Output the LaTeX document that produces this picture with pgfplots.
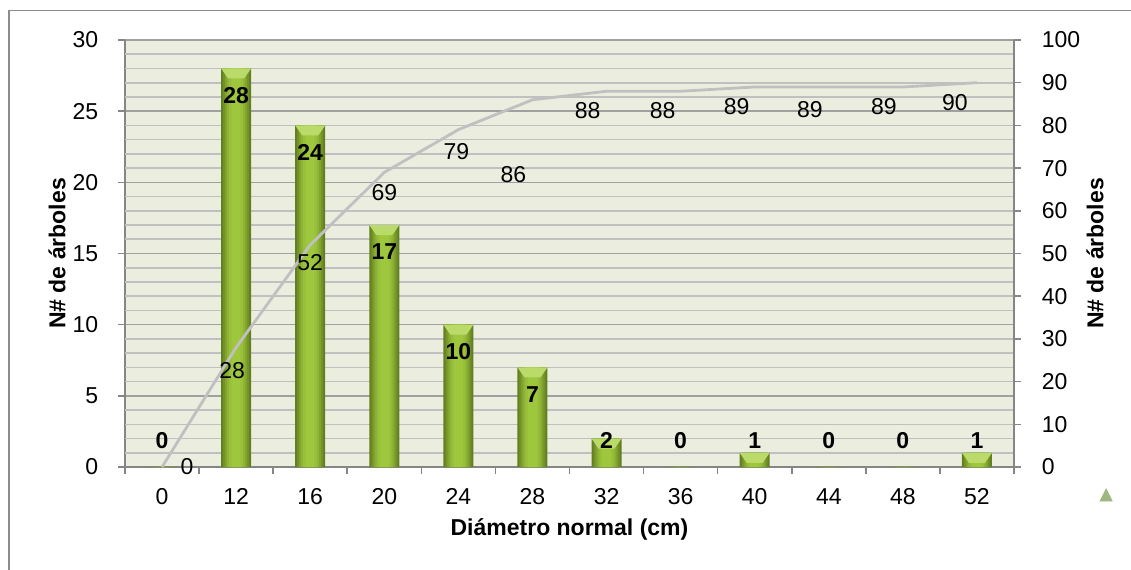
\documentclass[border=0pt]{standalone}
\usepackage{fontspec}
\setmainfont{Liberation Sans}
\usepackage{pgfplots}
\usepackage{pgfplotstable}
\pgfplotsset{compat=1.18}

\definecolor{plotbg}{RGB}{235,238,222}
\definecolor{axisgray}{RGB}{134,134,134}
\definecolor{majgrid}{RGB}{160,160,160}
\definecolor{mingrid}{RGB}{192,192,192}
\definecolor{barA}{RGB}{98,128,34}
\definecolor{barB}{RGB}{114,146,40}
\definecolor{barC}{RGB}{130,164,47}
\definecolor{barD}{RGB}{143,180,53}
\definecolor{barE}{RGB}{152,192,58}
\definecolor{barF}{RGB}{158,199,62}
\definecolor{barcap}{RGB}{186,218,106}
\definecolor{cumline}{RGB}{192,192,192}
\definecolor{legtri}{RGB}{160,182,128}
\definecolor{framegray}{RGB}{140,140,140}

% bevelled cap drawn on top of each bar
\pgfdeclareplotmark{bevel}{%
  \pgfpathmoveto{\pgfqpoint{-7.5pt}{0pt}}%
  \pgfpathlineto{\pgfqpoint{7.5pt}{0pt}}%
  \pgfpathlineto{\pgfqpoint{4pt}{-5pt}}%
  \pgfpathlineto{\pgfqpoint{-4pt}{-5pt}}%
  \pgfpathclose\pgfusepathqfill}

% i: category index, d: diameter class, n: trees per class, cum: cumulative trees
% ldx/ldy: offset of the cumulative label (pt)
\pgfplotstableread{
i  d   n   cum  ldx   ldy
0  0   0   0    12.5  0
1  12  28  28   -2    -11.5
2  16  24  52   0     -9
3  20  17  69   0     -10
4  24  10  79   -1    -11
5  28  7   86   -9.5  -37.5
6  32  2   88   -9.5  -9.5
7  36  0   88   -9    -9.5
8  40  1   89   -9    -10
9  44  0   89   -9.5  -11.5
10 48  0   89   -9.5  -10
11 52  1   90   -11   -10
}\datatable

\newcommand{\chartfont}{\fontsize{11.5}{13.8}\selectfont}

\begin{document}
\chartfont
\begin{tikzpicture}
\path[use as bounding box] (0,0) rectangle (565.5pt,284.5pt);
\draw[framegray, line width=0.6pt] (4.5pt,-1pt) -- (4.5pt,279.25pt) -- (566pt,279.25pt);

\pgfplotsset{
  common/.style={
    scale only axis, width=444.5pt, height=213.5pt,
    at={(62.5pt,51pt)}, anchor=south west,
    xmin=-0.5, xmax=11.5,
    /pgf/number format/assume math mode=true,
    tick label style={font=\chartfont, text=black},
    label style={font=\chartfont\bfseries},
    axis line style={axisgray, line width=0.75pt},
    every tick/.style={axisgray, line width=0.75pt},
    major tick length=3.25pt,
    tick align=outside,
    clip=false,
  },
  barlayer/.style={ybar, bar width=#1, bar shift=0pt, draw=none, forget plot},
}

% frequency bars on the left axis
\begin{axis}[common,
  axis background/.style={fill=plotbg},
  axis x line*=bottom, axis y line*=left,
  ymin=0, ymax=30, ytick={0,5,...,30},
  ymajorgrids, major grid style={majgrid, line width=0.8pt},
  extra y ticks={1,2,3,4,6,7,8,9,11,12,13,14,16,17,18,19,21,22,23,24,26,27,28,29},
  extra y tick labels={},
  extra y tick style={grid=major, major tick length=0pt,
    every major grid/.style={draw=mingrid, line width=0.8pt}},
  xtick={-0.5,0.5,...,11.5}, xticklabels={},
  extra x ticks={0,...,11},
  extra x tick labels={0,12,16,20,24,28,32,36,40,44,48,52},
  extra x tick style={major tick length=0pt},
  xticklabel style={anchor=north, inner sep=0pt, yshift=-10.5pt},
  yticklabel style={anchor=east, inner sep=0pt, xshift=-10pt},
  xlabel={Diámetro normal (cm)},
  xlabel style={at={(axis description cs:0.5,-0.1452)}, anchor=center},
  ylabel={N\# de árboles},
  ylabel style={at={(axis description cs:-0.0765,0.5)}, anchor=center},
]
% bars shaded from dark edges to a lighter centre
\addplot[barlayer=15pt, fill=barA] table[x=i, y=n]{\datatable};
\addplot[barlayer=13pt, fill=barB] table[x=i, y=n]{\datatable};
\addplot[barlayer=11pt, fill=barC] table[x=i, y=n]{\datatable};
\addplot[barlayer=9pt,  fill=barD] table[x=i, y=n]{\datatable};
\addplot[barlayer=7pt,  fill=barE] table[x=i, y=n]{\datatable};
\addplot[barlayer=4.5pt,fill=barF] table[x=i, y=n]{\datatable};
% bevelled caps (only where there is a bar)
\addplot[only marks, mark=bevel, barcap, forget plot,
  y filter/.expression={y==0 ? nan : y}]
  table[x=i, y=n]{\datatable};
% count labels
\addplot[draw=none, mark=none, forget plot,
  nodes near coords, point meta=explicit,
  visualization depends on={max(-1.9,1.85-\thisrow{n})*7.1167 \as \bshift},
  every node near coord/.append style={anchor=center, yshift=\bshift pt,
    font=\chartfont\bfseries, text=black}]
  table[x=i, y=n, meta=n]{\datatable};
\end{axis}

% cumulative count on the right axis
\begin{axis}[common,
  axis y line*=right, axis x line=none,
  ymin=0, ymax=100, ytick={0,10,...,100},
  yticklabel style={anchor=west, inner sep=0pt, xshift=10.5pt},
  ylabel={N\# de árboles},
  ylabel style={at={(axis description cs:1.0911,0.5)}, anchor=center},
  legend style={at={(axis description cs:1.096,-0.0656)}, anchor=west,
    draw=none, fill=none, inner sep=0pt},
]
\addplot[cumline, line width=1.4pt, forget plot,
  nodes near coords, point meta=explicit,
  visualization depends on={\thisrow{ldx} \as \ldx},
  visualization depends on={\thisrow{ldy} \as \ldy},
  every node near coord/.append style={anchor=center, xshift=\ldx pt,
    yshift=\ldy pt, text=black, font=\chartfont}]
  table[x=i, y=cum, meta=cum]{\datatable};
\addlegendimage{legend image code/.code={
  \fill[legtri] (0pt,-3pt) -- (6pt,-3pt) -- (3pt,3pt) -- cycle;}}
\addlegendentry{}
\end{axis}
\end{tikzpicture}
\end{document}
